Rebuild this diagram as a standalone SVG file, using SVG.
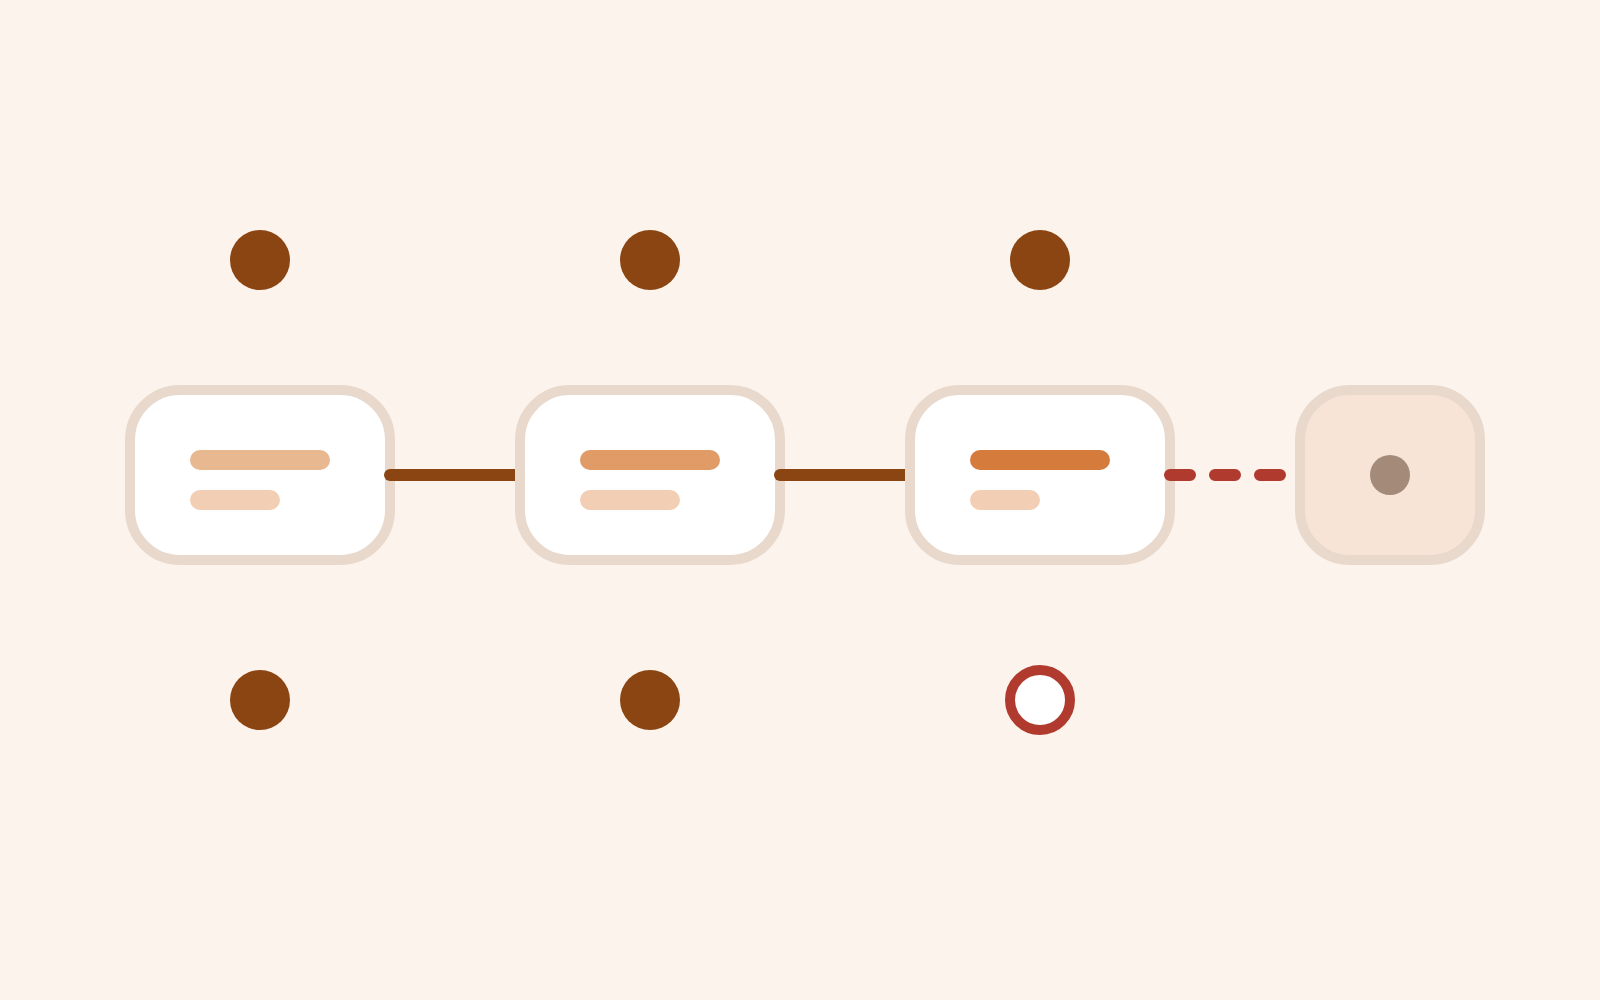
<svg xmlns="http://www.w3.org/2000/svg" width="1600" height="1000" viewBox="0 0 1600 1000">
<defs>
<style>
.box{fill:#ffffff;stroke:#e8d9cc;stroke-width:10}
.ghost{fill:#f7e4d6;stroke:#e8d9cc;stroke-width:10}
.bar2{fill:#f2cfb4}
.dot{fill:#8b4513}
.conn{fill:none;stroke:#8b4513;stroke-width:12;stroke-linecap:butt}
.dash{fill:none;stroke:#b03a2e;stroke-width:12;stroke-linecap:round;stroke-dasharray:20 25}
</style>
<marker id="cap" markerUnits="userSpaceOnUse" markerWidth="12" markerHeight="12" refX="6" refY="6" viewBox="0 0 12 12">
<circle cx="6" cy="6" r="6" fill="#8b4513"/>
</marker>
</defs>
<rect width="1600" height="1000" fill="#fcf3ec"/>
<g id="node1">
<rect class="box" x="130" y="390" width="260" height="170" rx="50"/>
<rect x="190" y="450" width="140" height="20" rx="10" fill="#e8b890"/>
<rect class="bar2" x="190" y="490" width="90" height="20" rx="10"/>
</g>
<g id="node2">
<rect class="box" x="520" y="390" width="260" height="170" rx="50"/>
<rect x="580" y="450" width="140" height="20" rx="10" fill="#e09b66"/>
<rect class="bar2" x="580" y="490" width="100" height="20" rx="10"/>
</g>
<g id="node3">
<rect class="box" x="910" y="390" width="260" height="170" rx="50"/>
<rect x="970" y="450" width="140" height="20" rx="10" fill="#d57b3c"/>
<rect class="bar2" x="970" y="490" width="70" height="20" rx="10"/>
</g>
<g id="node4">
<rect class="ghost" x="1300" y="390" width="180" height="170" rx="50"/>
<circle cx="1390" cy="475" r="20" fill="#a48a78"/>
</g>
<g id="dot-top-1"><circle class="dot" cx="260" cy="260" r="30"/></g>
<g id="dot-top-2"><circle class="dot" cx="650" cy="260" r="30"/></g>
<g id="dot-top-3"><circle class="dot" cx="1040" cy="260" r="30"/></g>
<g id="dot-bottom-1"><circle class="dot" cx="260" cy="700" r="30"/></g>
<g id="dot-bottom-2"><circle class="dot" cx="650" cy="700" r="30"/></g>
<g id="dot-bottom-3"><circle cx="1040" cy="700" r="30" fill="#ffffff" stroke="#b03a2e" stroke-width="10"/></g>
<g id="connectors">
<path class="conn" d="M390 475 H515" marker-start="url(#cap)"/>
<path class="conn" d="M780 475 H905" marker-start="url(#cap)"/>
<path class="dash" d="M1170 475 H1300"/>
</g>
</svg>
